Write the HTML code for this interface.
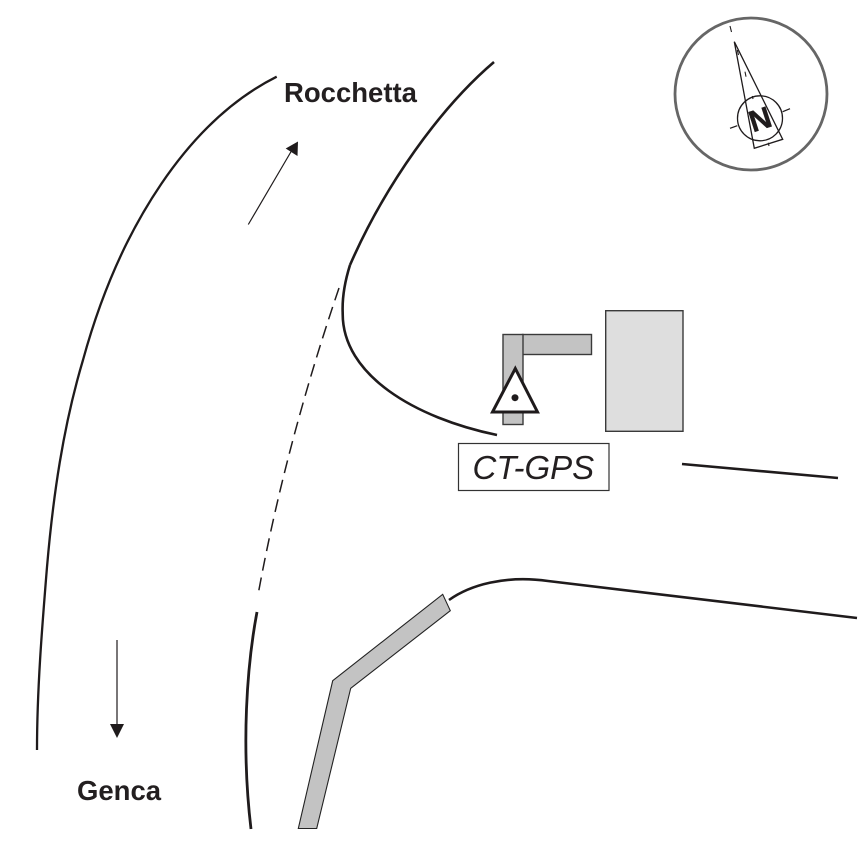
<!DOCTYPE html>
<html>
<head>
<meta charset="utf-8">
<style>
html,body{margin:0;padding:0;background:#fff}
svg{display:block}
text{font-family:"Liberation Sans",sans-serif}
</style>
</head>
<body>
<svg width="866" height="866" viewBox="0 0 866 866" xmlns="http://www.w3.org/2000/svg">
<rect width="866" height="866" fill="#fff"/>

<!-- roads -->
<g fill="none" stroke="#1f1b1c" stroke-linecap="butt">
<path d="M276.700 76.700C190 120 120 225 83 360C63 427 53 497 47 567C42 628 37 690 37 750" stroke-width="2.300"/>
<path d="M494 62C440 108 385 185 350 265" stroke-width="2.600"/>
<path d="M350 265C345 281 342 297 342.700 313C342 375 415 418 497 435" stroke-width="2.600"/>
<path d="M339 288C305 388 277 491 258 595" stroke-width="1.500" stroke-dasharray="13 7"/>
<path d="M257 612C247 665 241 745 251 829" stroke-width="2.800"/>
<path d="M449 600C470 585 505 575 548 581L857 618" stroke-width="2.600"/>
<path d="M682 464L838 478" stroke-width="2.600"/>
</g>

<!-- grey band bottom -->
<path d="M298.300 828.500L332.700 680.700L442.700 594.300L450.300 610.700L350.700 688.300L316.700 828.500Z" fill="#c3c3c3" stroke="#222" stroke-width="1.100" stroke-linejoin="miter"/>

<!-- arrows -->
<path d="M248.300 224.500L292 150" fill="none" stroke="#1f1b1c" stroke-width="1.200"/>
<path d="M298 141.500L285.700 148.500L297.500 156Z" fill="#1f1b1c"/>
<path d="M117 640V726" fill="none" stroke="#1f1b1c" stroke-width="1.200"/>
<path d="M110 724H124L117 738Z" fill="#1f1b1c"/>

<!-- labels -->
<text x="284" y="102" font-size="27.500" font-weight="700" fill="#231f20">Rocchetta</text>
<text x="77" y="800" font-size="27.500" font-weight="700" fill="#231f20">Genca</text>

<!-- buildings -->
<rect x="605.700" y="310.700" width="77.300" height="120.600" fill="#dedede" stroke="#3a3a3a" stroke-width="1.400"/>
<rect x="522.500" y="334.500" width="69" height="20" fill="#c3c3c3" stroke="#3a3a3a" stroke-width="1.400"/>
<rect x="503" y="334.500" width="20" height="90" fill="#c3c3c3" stroke="#3a3a3a" stroke-width="1.400"/>

<!-- station marker -->
<path d="M515.300 368.500L537.500 412H492.500Z" fill="#fff" stroke="#1f1b1c" stroke-width="3" stroke-linejoin="miter"/>
<circle cx="515" cy="397.700" r="3.500" fill="#1f1b1c"/>

<!-- label box -->
<rect x="458.500" y="443.500" width="150.500" height="47" fill="#fff" stroke="#333" stroke-width="1.200"/>
<text x="472.500" y="479" font-size="33" font-style="italic" fill="#231f20">CT-GPS</text>

<!-- compass -->
<circle cx="751" cy="94" r="76" fill="#fff" stroke="#666" stroke-width="2.800"/>
<g fill="none" stroke="#1f1b1c">
<path d="M734.300 41.700L754.300 148.300L782.700 139.300Z" stroke-width="1.300"/>
<circle cx="760" cy="118.300" r="22.500" stroke-width="1.300"/>
<path d="M730 26L731.500 32M737.300 50L738.500 55M745 71.700L746 76.700M752.300 96L753 99M768.300 142.700L769 146" stroke-width="1.100"/>
<path d="M782.700 111.700L790 108.700M730 128.300L737.300 125.700" stroke-width="1.300"/>
</g>
<text x="0" y="10.500" font-size="30" font-weight="700" fill="#1f1b1c" stroke="#1f1b1c" stroke-width="0.500" text-anchor="middle" transform="translate(760 119) rotate(-18)">N</text>
</svg>
</body>
</html>
